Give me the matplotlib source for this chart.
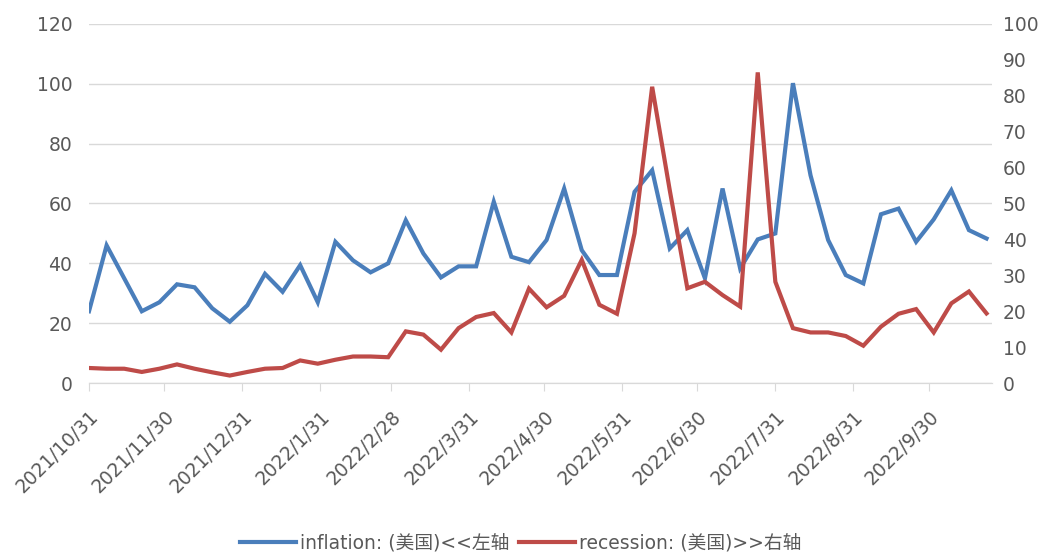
import matplotlib
matplotlib.use("Agg")
import matplotlib.pyplot as plt
import matplotlib.transforms as mtransforms
import numpy as np
import pandas as pd

plt.rcParams['font.family'] = ['DejaVu Sans', 'Noto Sans CJK SC']

# weekly dates, 52 points
dates = pd.date_range("2021-10-31", periods=52, freq="7D")

# inflation (left axis)
inflation = [24, 46, 35, 24, 27, 33, 32, 25, 20.5, 26, 36.5, 30.5, 39.4, 27,
             47.2, 41, 37, 40, 54.4, 43.3, 35.3, 39, 39, 60.6, 42.2, 40.4,
             47.8, 65, 44.4, 36.1, 36.1, 63.9, 71.1, 45, 51.1, 35, 65, 38.3,
             48, 50, 100.2, 69.4, 47.8, 36.1, 33.3, 56.4, 58.3, 47.2, 54.7,
             64.4, 51.1, 48.3]
# recession (right axis)
recession = [4.2, 4.0, 4.0, 3.1, 4.0, 5.2, 4.0, 3.0, 2.1, 3.1, 4.0, 4.2, 6.3,
             5.4, 6.5, 7.4, 7.4, 7.2, 14.4, 13.5, 9.3, 15.3, 18.4, 19.5, 14.1,
             26.3, 21.1, 24.3, 34.3, 21.8, 19.3, 41.7, 82.5, 53.7, 26.4, 28.2,
             24.5, 21.3, 86.5, 28.2, 15.3, 14.1, 14.1, 13.1, 10.4, 15.7, 19.3,
             20.6, 14.1, 22.2, 25.5, 19.4]

month_ticks = pd.to_datetime(["2021-10-31", "2021-11-30", "2021-12-31", "2022-01-31",
                              "2022-02-28", "2022-03-31", "2022-04-30", "2022-05-31",
                              "2022-06-30", "2022-07-31", "2022-08-31", "2022-09-30"])
tick_labels = [f"{d.year}/{d.month}/{d.day}" for d in month_ticks]

blue = "#4A7EBB"
red = "#BE4B48"
gray = "#595959"
grid = "#D9D9D9"

fig = plt.figure(figsize=(10.41, 5.56), dpi=100)
ax = fig.add_axes([0.0855, 0.311, 0.867, 0.646])
ax2 = ax.twinx()

l1, = ax.plot(dates, inflation, color=blue, lw=3, solid_joinstyle='miter')
l2, = ax2.plot(dates, recession, color=red, lw=3, solid_joinstyle='miter')

ax.set_ylim(0, 120)
ax.set_yticks(np.arange(0, 121, 20))
ax2.set_ylim(0, 100)
ax2.set_yticks(np.arange(0, 101, 10))
ax.set_xlim(dates[0], dates[-1] + pd.Timedelta(days=2))

ax.yaxis.grid(True, color=grid, lw=1)
ax.set_axisbelow(True)
for a in (ax, ax2):
    for s in ("top", "left", "right"):
        a.spines[s].set_visible(False)
    a.spines["bottom"].set_color(grid)
ax.tick_params(axis='y', length=0, pad=12, labelsize=13.5, labelcolor=gray)
ax2.tick_params(axis='y', length=0, pad=8, labelsize=13.5, labelcolor=gray)

ax.set_xticks(month_ticks)
ax.set_xticklabels(tick_labels, rotation=45, ha='right', va='center',
                   rotation_mode='anchor')
ax.tick_params(axis='x', length=6, color=grid, labelsize=13.5, labelcolor=gray, pad=16)
shift = mtransforms.ScaledTranslation(7 / 100, 0, fig.dpi_scale_trans)
for lab in ax.get_xticklabels():
    lab.set_transform(lab.get_transform() + shift)

fig.legend([l1, l2], ["inflation: (美国)<<左轴", "recession: (美国)>>右轴"],
           loc='center', bbox_to_anchor=(0.5, 0.024), ncol=2, frameon=False,
           fontsize=13.5, labelcolor=gray, handlelength=3.0, handletextpad=0.2,
           columnspacing=0.5)

fig.savefig("out.png", dpi=100)
